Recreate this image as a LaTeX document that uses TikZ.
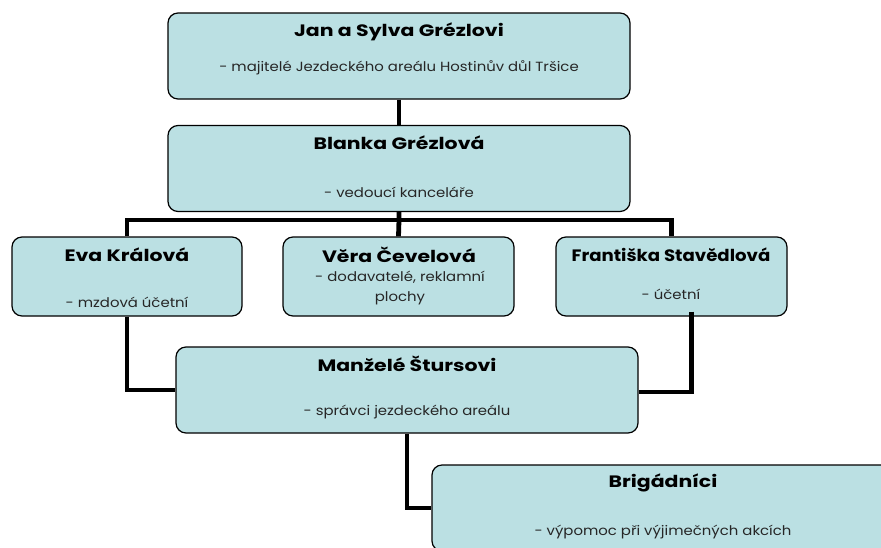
\documentclass[tikz,border=0pt]{standalone}
\usepackage{fontspec}
\setmainfont{Poppins}
\newfontfamily\headfont[FakeStretch=1.24]{Poppins}
\newfontfamily\headnarrow[FakeStretch=1.1]{Poppins}
\newfontfamily\rolefont[FakeStretch=1.12]{Poppins}
\usetikzlibrary{positioning,calc}
\definecolor{boxfill}{RGB}{187,224,227}

\begin{document}
\begin{tikzpicture}[
    x=1pt, y=-1pt,
    box/.style={draw, line width=1.2pt, rounded corners=10pt, fill=boxfill,
        minimum height=86pt, inner sep=0pt},
    wide/.style={box, minimum width=462pt},
    narrow/.style={box, minimum width=231pt},
    title/.style={font=\headfont\fontsize{16.5}{18}\selectfont\bfseries},
    sub/.style={font=\rolefont\fontsize{13.3}{20}\selectfont, text=black!85, align=center},
    link/.style={line width=4.8pt}
]
\clip (0,0) rectangle (881,547);

% Nodes
\node[wide] (owners) at (399,56) {};
\node[wide] (office) at (399,168.5) {};
\node[narrow, minimum width=230pt, minimum height=79pt] (eva) at (127,276.5) {};
\node[narrow, minimum height=79pt] (vera) at (398.5,276.5) {};
\node[narrow, minimum height=79pt] (frant) at (671.5,276.5) {};
\node[wide] (keepers) at (407,390) {};
\node[wide] (helpers) at (663,508) {};

% Texts
\node[title] (ownersT) at (399,32) {Jan a Sylva Grézlovi};
\node[sub] (ownersS) at (399,68) {- majitelé Jezdeckého areálu Hostinův důl Tršice};
\node[title] (officeT) at (399,143) {Blanka Grézlová};
\node[sub] (officeS) at (399,192) {- vedoucí kanceláře};
\node[title] (evaT) at (127,255) {Eva Králová};
\node[sub] (evaS) at (127,302) {- mzdová účetní};
\node[title] (veraT) at (399,255) {Věra Čevelová};
\node[sub] (veraS) at (400,288) {- dodavatelé, reklamní\\plochy};
\node[title, font=\headnarrow\fontsize{16.5}{18}\selectfont\bfseries] (frantT) at (671,255) {Františka Stavědlová};
\node[sub] (frantS) at (671,294) {- účetní};
\node[title] (keepersT) at (407,364) {Manželé Štursovi};
\node[sub] (keepersS) at (407,412) {- správci jezdeckého areálu};
\node[title] (helpersT) at (663,483) {Brigádníci};
\node[sub] (helpersS) at (663,532) {- výpomoc při výjimečných akcích};

% Lines
\coordinate (split) at (399,220);
\draw[link] (owners.south) -- (office.north);
\draw[link] (office.south) -- (split) -- (vera.north);
\draw[link] (eva.north) |- (split) -| (frant.north);
\draw[link] (eva.south) |- (keepers.west);
\draw[link] ($(frant.south)+(20,-5)$) |- ($(keepers.east)+(0,2)$);
\draw[link] (keepers.south) |- (helpers.west);

\end{tikzpicture}
\end{document}
